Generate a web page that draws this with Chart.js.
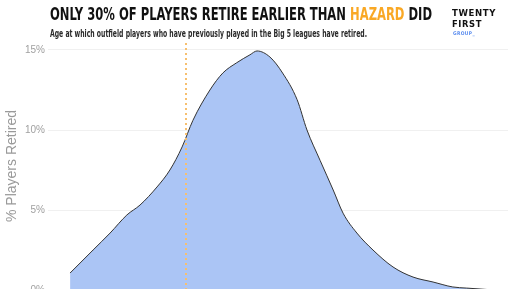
<!DOCTYPE html>
<html>
<head>
<meta charset="utf-8">
<script src="https://cdn.jsdelivr.net/npm/chart.js@4/dist/chart.umd.min.js"></script>
<style>
  html, body { margin:0; padding:0; background:#fff; overflow:hidden; width:516px; height:289px; }
  #wrap { position:absolute; left:0; top:0; width:516px; height:300px; }
  .txt { position:absolute; white-space:nowrap; transform-origin:0 0; line-height:1; }
  #title { left:50px; top:3px; font:bold 18px "Liberation Sans Narrow","DejaVu Sans Condensed","Roboto",sans-serif; color:#111; }
  #title .hl { color:#f9a825; }
  #sub { left:50px; top:26.6px; font:bold 10.5px "Liberation Sans Narrow","DejaVu Sans Condensed","Roboto",sans-serif; color:#2a2a2a; }
  .logo { font-family:"DejaVu Sans","Roboto",sans-serif; font-weight:bold; color:#111; }
  #l1 { left:452px; top:9px; font-size:8.5px; letter-spacing:0.6px; }
  #l2 { left:452px; top:20px; font-size:8.5px; letter-spacing:0.6px; }
  #l3 { left:453px; top:31px; font-size:5px; letter-spacing:0.4px; color:#5b8def; }
</style>
</head>
<body>
<div id="wrap"><canvas id="chart" width="516" height="300"></canvas></div>
<div class="txt" id="title" data-w="382">ONLY 30% OF PLAYERS RETIRE EARLIER THAN <span class="hl">HAZARD</span> DID</div>
<div class="txt" id="sub" data-w="317">Age at which outfield players who have previously played in the Big 5 leagues have retired.</div>
<div class="txt logo" id="l1" data-w="44">TWENTY</div>
<div class="txt logo" id="l2" data-w="30">FIRST</div>
<div class="txt logo" id="l3" data-w="22">GROUP_</div>
<script>
// retirement age density (age in years, % of players)
const ages = [26.96, 27.96, 28.7, 29.43, 30.0, 30.74, 31.3, 31.83, 32.3, 33.04, 33.6, 34.2, 34.78, 35.09, 35.65, 36.2, 36.83, 37.26, 37.83, 38.4, 38.83, 39.43, 40.13, 41.0, 41.87, 42.74, 43.6, 44.2, 45.2];
const pctRetired = [1.06, 2.5, 3.56, 4.69, 5.31, 6.44, 7.5, 8.94, 10.6, 12.5, 13.56, 14.2, 14.7, 14.94, 14.56, 13.56, 11.9, 10.0, 8.1, 6.25, 4.8, 3.56, 2.5, 1.44, 0.81, 0.5, 0.19, 0.12, 0.02];
const hazardAge = 32;
const yTicks = [0, 5, 10, 15];

// squeeze text blocks to the widths seen in the picture
document.querySelectorAll('.txt').forEach(el => {
  const w = el.getBoundingClientRect().width;
  const target = +el.dataset.w;
  if (w > 0) el.style.transform = 'scaleX(' + (target / w) + ')';
});

const density = ages.map((a, i) => ({x: a, y: pctRetired[i]}));
const hazardLine = [{x: hazardAge, y: 0}, {x: hazardAge, y: 15.5}];

new Chart(document.getElementById('chart'), {
  type: 'line',
  data: {
    datasets: [
      {data: hazardLine, borderColor: '#f7bf6e', borderWidth: 2, borderDash: [2, 3], pointRadius: 0, fill: false, order: 0},
      {data: density, borderColor: '#333', borderWidth: 1, backgroundColor: '#abc5f5', fill: 'origin',
       cubicInterpolationMode: 'monotone', pointRadius: 0, order: 1}
    ]
  },
  options: {
    responsive: false,
    animation: false,
    layout: {padding: {top: 42, right: 8, bottom: 10, left: 0}},
    plugins: {legend: {display: false}, tooltip: {enabled: false}},
    scales: {
      x: {type: 'linear', min: 26, max: 46, display: false},
      y: {
        min: 0, max: 15.5,
        afterFit: s => { s.width = 48; },
        afterBuildTicks: s => { s.ticks = yTicks.map(v => ({value: v})); },
        border: {display: false},
        grid: {color: '#f0f0f0', drawTicks: false},
        ticks: {color: '#a0a0a0', font: {size: 10, family: 'Liberation Sans, Arial, sans-serif'}, padding: 3,
                callback: v => v + '%'},
        title: {display: true, text: '% Players Retired', color: '#9a9a9a',
                font: {size: 14, family: 'Liberation Sans, Arial, sans-serif'}, padding: {top: 4, bottom: 0}}
      }
    }
  }
});
</script>
</body>
</html>
